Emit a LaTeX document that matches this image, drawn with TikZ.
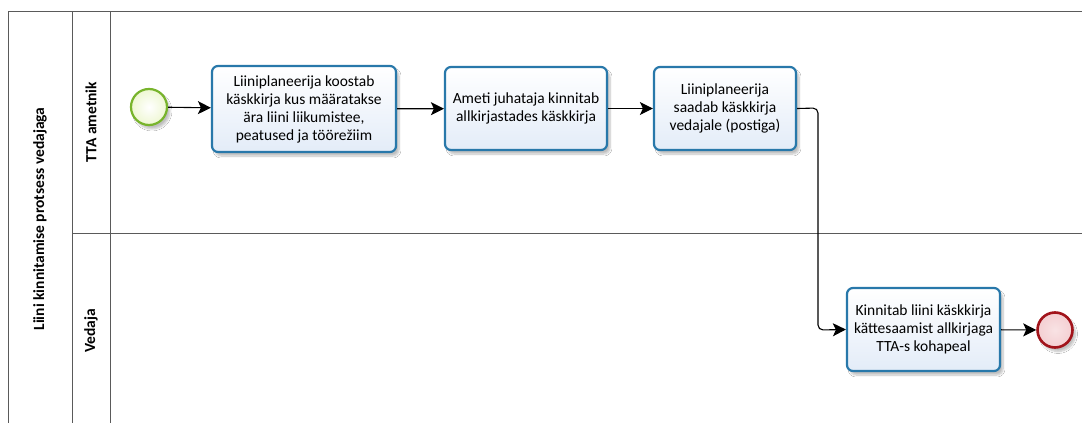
\documentclass[tikz,border=0pt]{standalone}
\usepackage{fontspec}
\setmainfont{Carlito}
\usetikzlibrary{arrows.meta,shadows.blur}
\definecolor{taskline}{HTML}{2878AA}
\definecolor{tasktop}{HTML}{FFFFFF}
\definecolor{taskbot}{HTML}{E3ECF8}
\definecolor{startline}{HTML}{78B42C}
\definecolor{startfill}{HTML}{EEF7D2}
\definecolor{endline}{HTML}{A2141B}
\definecolor{endfill}{HTML}{F4CFD2}
\definecolor{poolline}{HTML}{5A5A5A}
\tikzset{
  x=1pt, y=-1pt,
  pool/.style={draw=poolline, line width=1pt},
  task/.style={draw=taskline, line width=2.2pt, rounded corners=6pt,
    top color=tasktop, bottom color=taskbot, align=center,
    font=\fontsize{15.5}{18}\selectfont, inner sep=0pt,
    blur shadow={shadow xshift=3pt, shadow yshift=-4pt, shadow opacity=25, shadow blur steps=8}},
  startev/.style={circle, draw=startline, line width=2.2pt, inner sep=0pt,
    minimum size=36pt, inner color=white, outer color=startfill,
    blur shadow={shadow xshift=3pt, shadow yshift=-4pt, shadow opacity=25, shadow blur steps=8}},
  endev/.style={circle, draw=endline, line width=2.6pt, inner sep=0pt,
    minimum size=35pt, inner color=white!40!endfill, outer color=endfill,
    blur shadow={shadow xshift=3pt, shadow yshift=-4pt, shadow opacity=25, shadow blur steps=8}},
  flow/.style={draw=black, line width=1.1pt, -{Stealth[length=13pt,width=13pt,inset=3pt]}},
  lanelabel/.style={rotate=90, font=\bfseries\fontsize{15.5}{18}\selectfont}
}
\begin{document}
\begin{tikzpicture}
\useasboundingbox (0,0) rectangle (1082,423);
\fill[white] (0,0) rectangle (1082,423);

% pool and lane frames
\draw[pool] (8,423) -- (8,11) -- (1082,11);
\draw[pool] (72,11) -- (72,423);
\draw[pool] (110,11) -- (110,423);
\draw[pool] (72,233) -- (1082,233);

% labels
\node[lanelabel] (poolname) at (40,219) {Liini kinnitamise protsess vedajaga};
\node[lanelabel] (lane1) at (91,122) {TTA ametnik};
\node[lanelabel] (lane2) at (91,331) {Vedaja};

% events and tasks
\node[startev] (start) at (149,107) {};
\node[task, minimum width=184pt, minimum height=86pt] (t1) at (304,109)
  {Liiniplaneerija koostab\\käskkirja kus määratakse\\ära liini liikumistee,\\peatused ja töörežiim};
\node[task, minimum width=162pt, minimum height=83pt] (t2) at (526,108.5)
  {Ameti juhataja kinnitab\\allkirjastades käskkirja};
\node[task, minimum width=142pt, minimum height=83pt] (t3) at (725,108.5)
  {Liiniplaneerija\\saadab käskkirja\\vedajale (postiga)};
\node[task, minimum width=153pt, minimum height=83pt] (t4) at (923.5,329.5)
  {Kinnitab liini käskkirja\\kättesaamist allkirjaga\\TTA-s kohapeal};
\node[endev] (end) at (1055,330) {};

% sequence flows
\draw[flow] (start) -- (t1);
\draw[flow] (t1) -- (t2);
\draw[flow] (t2) -- (t3);
\coordinate (bend1) at (818,108);
\coordinate (bend2) at (818,330);
\draw[flow, rounded corners=5pt] (t3.east) -- (bend1) -- (bend2) -- (t4.west);
\draw[flow] (t4) -- (end);
\end{tikzpicture}
\end{document}
